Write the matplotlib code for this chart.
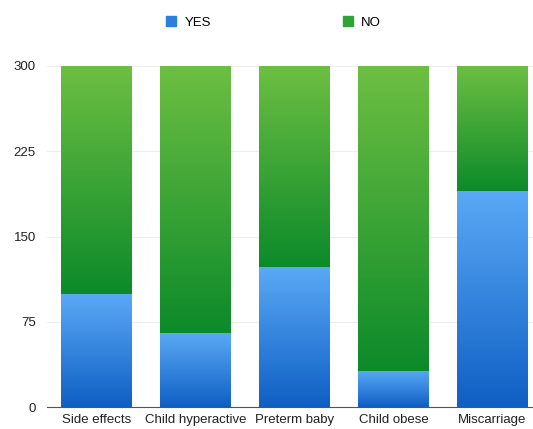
import numpy as np
import matplotlib
matplotlib.use("Agg")
import matplotlib.pyplot as plt
from matplotlib.colors import LinearSegmentedColormap
from matplotlib.patches import Patch

plt.rcParams['font.family'] = ['Liberation Sans', 'DejaVu Sans']

# data
categories = ["Side effects", "Child hyperactive", "Preterm baby", "Child obese", "Miscarriage"]
yes_vals = [99, 65, 123, 32, 190]
no_vals = [201, 235, 177, 268, 110]
yticks = [0, 75, 150, 225, 300]

blue_cmap = LinearSegmentedColormap.from_list("blue", ["#0f5fc4", "#5aa9f6"])
green_cmap = LinearSegmentedColormap.from_list("green", ["#0c8a2a", "#6dbf42"])

fig = plt.figure(figsize=(5.33, 4.29), dpi=100)
ax = fig.add_axes([47 / 533, 22 / 429, 486 / 533, 341 / 429])

width = 0.71
grad = np.linspace(0, 1, 256).reshape(-1, 1)
x = np.arange(len(categories))

for i in x:
    segs = [(0, yes_vals[i], blue_cmap), (yes_vals[i], yes_vals[i] + no_vals[i], green_cmap)]
    for lo, hi, cmap in segs:
        ax.imshow(grad, cmap=cmap, origin="lower", aspect="auto",
                  extent=[i - width / 2, i + width / 2, lo, hi], zorder=2)

ax.set_xlim(-0.5, len(categories) - 0.59)
ax.set_ylim(0, 300)
ax.set_yticks(yticks)
ax.set_xticks(x)
ax.set_xticklabels(categories)
ax.grid(axis="y", color="#eeeeee", linewidth=0.8, zorder=0)
ax.set_axisbelow(True)
for s in ["top", "right", "left"]:
    ax.spines[s].set_visible(False)
ax.spines["bottom"].set_color("#555555")
ax.tick_params(axis="both", length=0, labelsize=9.5, colors="#222222")
ax.tick_params(axis="y", pad=8)
ax.tick_params(axis="x", pad=5)

handles = [Patch(color="#2a7fe0", label="YES"), Patch(color="#2fa336", label="NO")]
fig.legend(handles=handles, loc="center", bbox_to_anchor=(0.513, 0.948), ncol=2,
           frameon=False, fontsize=9.5, handlelength=0.8, handleheight=0.8,
           columnspacing=10.0, handletextpad=0.6)

fig.savefig("out.png", dpi=100)
